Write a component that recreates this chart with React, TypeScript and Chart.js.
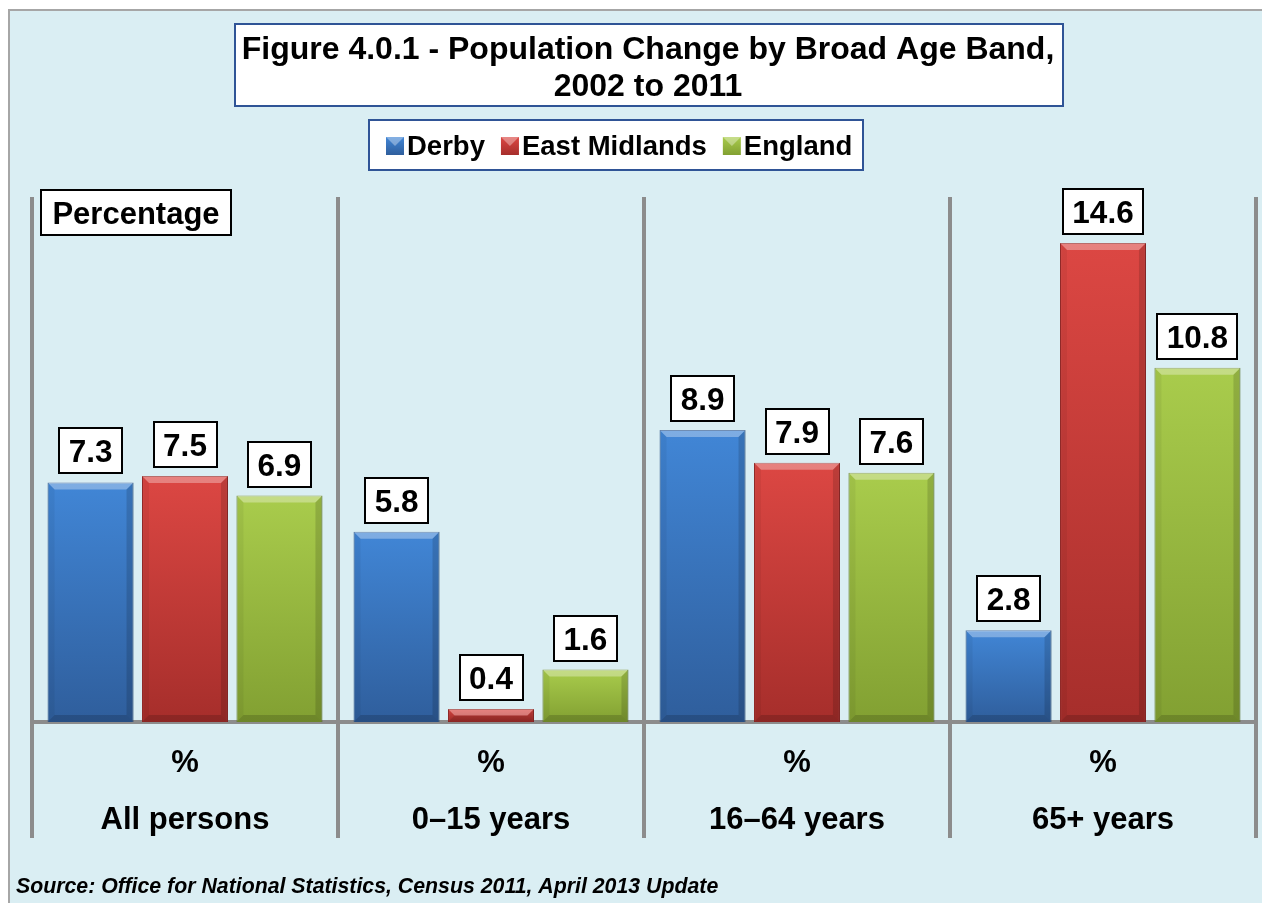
import React, { useEffect, useRef } from "react";
import { Chart, registerables } from "chart.js";

Chart.register(...registerables);

// ---- data ----
const unitLabel = "%";
const categories = ["All persons", "0–15 years", "16–64 years", "65+ years"];
const seriesNames = ["Derby", "East Midlands", "England"];
const derbyValues = [7.3, 5.8, 8.9, 2.8];
const eastMidlandsValues = [7.5, 0.4, 7.9, 14.6];
const englandValues = [6.9, 1.6, 7.6, 10.8];
const yMin = 0;
const yMax = 16;

const titleLines = ["Figure 4.0.1 - Population Change by Broad Age Band,", "2002 to 2011"];
const axisBoxText = "Percentage";
const sourceText = "Source: Office for National Statistics, Census 2011, April 2013 Update";

// ---- styles ----
const FONT = '"Liberation Sans", Arial, Helvetica, sans-serif';
const seriesTop = ["#4186d6", "#dc4743", "#a9cc4c"];
const seriesBottom = ["#2f5e9c", "#a62e2b", "#82a032"];
const seriesBorder = ["#2c5890", "#962826", "#6c8829"];

function barGradient(chart: any, dsIndex: number, value: number) {
  const area = chart.chartArea;
  const y = chart.scales && chart.scales.y;
  if (!area || !y) return seriesTop[dsIndex];
  const top = y.getPixelForValue(value);
  const base = y.getPixelForValue(0);
  if (!isFinite(top) || !isFinite(base) || base - top < 1) return seriesTop[dsIndex];
  const g = chart.ctx.createLinearGradient(0, top, 0, base);
  g.addColorStop(0, seriesTop[dsIndex]);
  g.addColorStop(1, seriesBottom[dsIndex]);
  return g;
}

const backgroundPlugin = {
  id: "bgPanel",
  beforeDraw(chart: any) {
    const ctx = chart.ctx;
    ctx.save();
    ctx.fillStyle = "#ffffff";
    ctx.fillRect(0, 0, chart.width, chart.height);
    ctx.fillStyle = "#daeef3";
    ctx.fillRect(9, 10, chart.width + 20, chart.height + 20);
    ctx.strokeStyle = "#a6a6a6";
    ctx.lineWidth = 2;
    ctx.strokeRect(9, 10, chart.width + 20, chart.height + 20);
    ctx.restore();
  },
};

const bevelAndLabelPlugin = {
  id: "bevelLabels",
  afterDatasetsDraw(chart: any) {
    const ctx = chart.ctx;
    ctx.save();
    // bevel
    chart.data.datasets.forEach((ds: any, i: number) => {
      const meta = chart.getDatasetMeta(i);
      meta.data.forEach((el: any) => {
        const l = el.x - el.width / 2;
        const r = el.x + el.width / 2;
        const t = el.y;
        const b = el.base;
        const bv = Math.min(7, (b - t) / 2);
        ctx.fillStyle = "rgba(255,255,255,0.32)";
        ctx.beginPath();
        ctx.moveTo(l, t);
        ctx.lineTo(r, t);
        ctx.lineTo(r - bv, t + bv);
        ctx.lineTo(l + bv, t + bv);
        ctx.closePath();
        ctx.fill();
        ctx.fillStyle = "rgba(0,0,0,0.14)";
        ctx.beginPath();
        ctx.moveTo(r, t);
        ctx.lineTo(r, b);
        ctx.lineTo(r - bv, b - bv);
        ctx.lineTo(r - bv, t + bv);
        ctx.closePath();
        ctx.fill();
        ctx.fillStyle = "rgba(0,0,0,0.16)";
        ctx.beginPath();
        ctx.moveTo(l, b);
        ctx.lineTo(r, b);
        ctx.lineTo(r - bv, b - bv);
        ctx.lineTo(l + bv, b - bv);
        ctx.closePath();
        ctx.fill();
        ctx.fillStyle = "rgba(0,0,0,0.05)";
        ctx.beginPath();
        ctx.moveTo(l, t);
        ctx.lineTo(l + bv, t + bv);
        ctx.lineTo(l + bv, b - bv);
        ctx.lineTo(l, b);
        ctx.closePath();
        ctx.fill();
      });
    });
    // value labels
    const fs = 31.5;
    ctx.font = `bold ${fs}px ${FONT}`;
    ctx.textAlign = "center";
    ctx.textBaseline = "alphabetic";
    chart.data.datasets.forEach((ds: any, i: number) => {
      const meta = chart.getDatasetMeta(i);
      meta.data.forEach((el: any, j: number) => {
        const v = ds.data[j] as number;
        const txt = v.toFixed(1);
        const tw = ctx.measureText(txt).width;
        const w = Math.round(tw + 19);
        const h = 45;
        const bx = Math.round(el.x - w / 2);
        const by = Math.round(el.y - 9 - h);
        ctx.fillStyle = "#ffffff";
        ctx.fillRect(bx, by, w, h);
        ctx.strokeStyle = "#000000";
        ctx.lineWidth = 2;
        ctx.strokeRect(bx, by, w, h);
        ctx.fillStyle = "#000000";
        ctx.fillText(txt, el.x, by + h / 2 + 0.358 * fs);
      });
    });
    ctx.restore();
  },
};

const decorPlugin = {
  id: "decor",
  afterDraw(chart: any) {
    const ctx = chart.ctx;
    ctx.save();
    // title box
    ctx.fillStyle = "#ffffff";
    ctx.fillRect(235, 24, 828, 82);
    ctx.strokeStyle = "#2f5496";
    ctx.lineWidth = 2;
    ctx.strokeRect(235, 24, 828, 82);
    ctx.fillStyle = "#000000";
    ctx.font = `bold 32px ${FONT}`;
    ctx.textAlign = "center";
    ctx.textBaseline = "alphabetic";
    ctx.fillText(titleLines[0], 648, 59);
    ctx.fillText(titleLines[1], 648, 96);

    // legend box
    ctx.fillStyle = "#ffffff";
    ctx.fillRect(369, 120, 494, 50);
    ctx.strokeStyle = "#2f5496";
    ctx.strokeRect(369, 120, 494, 50);
    ctx.font = `bold 27.5px ${FONT}`;
    ctx.textAlign = "left";
    let x = 386;
    chart.data.datasets.forEach((ds: any, i: number) => {
      const g = ctx.createLinearGradient(0, 137, 0, 155);
      g.addColorStop(0, seriesTop[i]);
      g.addColorStop(1, seriesBottom[i]);
      ctx.fillStyle = g;
      ctx.fillRect(x, 137, 18, 18);
      ctx.fillStyle = "rgba(255,255,255,0.35)";
      ctx.beginPath();
      ctx.moveTo(x, 137);
      ctx.lineTo(x + 18, 137);
      ctx.lineTo(x + 9, 146);
      ctx.closePath();
      ctx.fill();
      x += 21;
      ctx.fillStyle = "#000000";
      ctx.fillText(ds.label, x, 155);
      x += ctx.measureText(ds.label).width + 16;
    });

    // axis caption box
    ctx.fillStyle = "#ffffff";
    ctx.fillRect(41, 190, 190, 45);
    ctx.strokeStyle = "#000000";
    ctx.strokeRect(41, 190, 190, 45);
    ctx.fillStyle = "#000000";
    ctx.font = `bold 31px ${FONT}`;
    ctx.textAlign = "center";
    ctx.fillText(axisBoxText, 136, 224);

    // source
    ctx.font = `italic bold 21.3px ${FONT}`;
    ctx.textAlign = "left";
    ctx.fillText(sourceText, 16, 893);
    ctx.restore();
  },
};

export default function App() {
  const ref = useRef<HTMLCanvasElement>(null);

  useEffect(() => {
    const canvas = ref.current;
    if (!canvas) return;
    const seriesValues = [derbyValues, eastMidlandsValues, englandValues];
    const chart = new Chart(canvas, {
      type: "bar",
      data: {
        labels: categories.map((c) => [unitLabel, c]),
        datasets: seriesNames.map((name, i) => ({
          label: name,
          data: seriesValues[i],
          backgroundColor: (c: any) => barGradient(c.chart, i, seriesValues[i][c.dataIndex] ?? 0),
          borderColor: seriesBorder[i],
          borderWidth: 1,
          categoryPercentage: 0.926,
          barPercentage: 0.91,
        })),
      },
      options: {
        responsive: false,
        animation: false,
        devicePixelRatio: 1,
        layout: { padding: { top: 197, left: 32, right: 6, bottom: 61 } },
        plugins: {
          legend: { display: false },
          title: { display: false },
          tooltip: { enabled: false },
        },
        scales: {
          x: {
            offset: true,
            grid: {
              offset: true,
              display: true,
              drawOnChartArea: true,
              drawTicks: true,
              tickLength: 116,
              color: "#8c8c8c",
              lineWidth: 4,
            },
            border: { display: true, color: "#8c8c8c", width: 4 },
            ticks: {
              color: "#000000",
              font: { family: FONT, size: 31, weight: "bold", lineHeight: "57px" } as any,
              padding: -103,
              maxRotation: 0,
              autoSkip: false,
            },
            afterFit: (scale: any) => {
              scale.height = 120;
            },
          },
          y: {
            display: false,
            min: yMin,
            max: yMax,
            grid: { display: false },
          },
        },
      },
      plugins: [backgroundPlugin, bevelAndLabelPlugin, decorPlugin],
    } as any);
    return () => chart.destroy();
  }, []);

  return (
    <div style={{ position: "absolute", left: 0, top: 0, width: 1262, height: 903 }}>
      <canvas ref={ref} width={1262} height={903} style={{ display: "block", width: 1262, height: 903 }} />
    </div>
  );
}
